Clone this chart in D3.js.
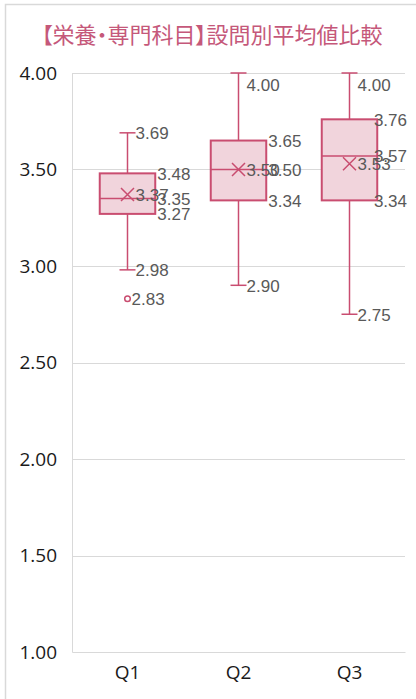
<!DOCTYPE html>
<html><head><meta charset="utf-8">
<script src="https://cdn.jsdelivr.net/npm/d3@7/dist/d3.min.js"></script>
<style>html,body{margin:0;padding:0;background:#fff;overflow:hidden}</style>
</head><body>
<svg id="c" width="416" height="699"></svg>
<script>
const title = "【栄養・専門科目】設問別平均値比較";
const categories = ["Q1","Q2","Q3"];
const mins    = [2.98, 2.90, 2.75];
const q1s     = [3.27, 3.34, 3.34];
const medians = [3.35, 3.50, 3.57];
const q3s     = [3.48, 3.65, 3.76];
const maxs    = [3.69, 4.00, 4.00];
const means   = [3.37, 3.50, 3.53];
const outliers = [[2.83], [], []];
const yTicks  = [1.00, 1.50, 2.00, 2.50, 3.00, 3.50, 4.00];

const stroke = "#C94D70", fill = "#F1D4DC", labelColor = "#595959";
const svg = d3.select("#c");
const L = 72, R = 405, T = 73, B = 652;

// outer frame
svg.append("rect").attr("x",5.5).attr("y",4.5).attr("width",430).attr("height",720)
  .attr("fill","#fff").attr("stroke","#D9D9D9").attr("stroke-width",1.5);

const tt = svg.append("text").attr("x",212).attr("y",43).attr("text-anchor","middle")
  .attr("font-family","'Noto Sans CJK JP'").attr("font-size",22).attr("fill","#C5587A")
  .style("font-feature-settings","'palt'").text(title);
const tw = tt.node().getComputedTextLength();
if (tw > 0) { tt.attr("textLength", 341).attr("lengthAdjust","spacingAndGlyphs"); }

const y = d3.scaleLinear().domain([1,4]).range([B,T]);
const x = d3.scaleBand().domain(categories).range([L,R]).padding(0);

// grid
svg.append("g").selectAll("line").data(yTicks.filter(d=>d>1)).join("line")
  .attr("x1",L).attr("x2",R).attr("y1",d=>Math.round(y(d))+0.5).attr("y2",d=>Math.round(y(d))+0.5)
  .attr("stroke","#D9D9D9").attr("stroke-width",1);

// axes
const yAxis = svg.append("g").attr("transform",`translate(${L},0)`)
  .call(d3.axisLeft(y).tickValues(yTicks).tickFormat(d=>d.toFixed(2)).tickSize(0).tickPadding(15));
yAxis.select(".domain").attr("stroke","#D9D9D9");
yAxis.selectAll("text").attr("font-family","'Open Sans'").attr("font-size",19).attr("fill","#1a1a1a");

const xAxis = svg.append("g").attr("transform",`translate(0,${B})`)
  .call(d3.axisBottom(x).tickSize(0).tickPadding(14));
xAxis.select(".domain").attr("stroke","#D9D9D9");
xAxis.selectAll("text").attr("font-family","'Open Sans'").attr("font-size",19).attr("fill","#1a1a1a");

const bw = x.bandwidth()*0.5, cap = 16;
const g = svg.append("g");
const labels = svg.append("g").attr("font-family","'Liberation Sans', Arial").attr("font-size",17).attr("fill",labelColor);

function label(tx, ty, txt){
  const cy = Math.max(ty, T + 11);
  const t = labels.append("text").attr("x",tx).attr("y",cy+6.5).text(txt);
  const w = t.node().getComputedTextLength();
  if (tx + w > R + 2) t.attr("x", R + 2 - w);
  return t;
}

categories.forEach((c,i)=>{
  const cx = x(c) + x.bandwidth()/2;
  // whiskers
  g.append("line").attr("x1",cx).attr("x2",cx).attr("y1",y(maxs[i])).attr("y2",y(q3s[i])).attr("stroke",stroke).attr("stroke-width",1.5);
  g.append("line").attr("x1",cx).attr("x2",cx).attr("y1",y(q1s[i])).attr("y2",y(mins[i])).attr("stroke",stroke).attr("stroke-width",1.5);
  [maxs[i],mins[i]].forEach(v=>g.append("line").attr("x1",cx-cap/2).attr("x2",cx+cap/2).attr("y1",y(v)).attr("y2",y(v)).attr("stroke",stroke).attr("stroke-width",1.5));
  // box
  g.append("rect").attr("x",cx-bw/2).attr("y",y(q3s[i])).attr("width",bw).attr("height",y(q1s[i])-y(q3s[i]))
    .attr("fill",fill).attr("stroke",stroke).attr("stroke-width",2);
  g.append("line").attr("x1",cx-bw/2).attr("x2",cx+bw/2).attr("y1",y(medians[i])).attr("y2",y(medians[i])).attr("stroke",stroke).attr("stroke-width",1.5);
  // mean marker
  const my = y(means[i]), s = 6.5;
  g.append("path").attr("d",`M${cx-s},${my-s}L${cx+s},${my+s}M${cx-s},${my+s}L${cx+s},${my-s}`).attr("stroke",stroke).attr("stroke-width",1.5).attr("fill","none");
  // outliers
  outliers[i].forEach(v=>{
    g.append("circle").attr("cx",cx).attr("cy",y(v)).attr("r",2.8).attr("fill","#fff").attr("stroke",stroke).attr("stroke-width",1.5);
    label(cx+4, y(v), v.toFixed(2));
  });
  // labels
  label(cx+8, y(maxs[i]), maxs[i].toFixed(2));
  label(cx+8, y(mins[i]), mins[i].toFixed(2));
  label(cx+bw/2+2, y(q3s[i]), q3s[i].toFixed(2));
  label(cx+bw/2+2, y(medians[i]), medians[i].toFixed(2));
  label(cx+bw/2+2, y(q1s[i]), q1s[i].toFixed(2));
  label(cx+8, my, means[i].toFixed(2));
});
</script>
</body></html>
